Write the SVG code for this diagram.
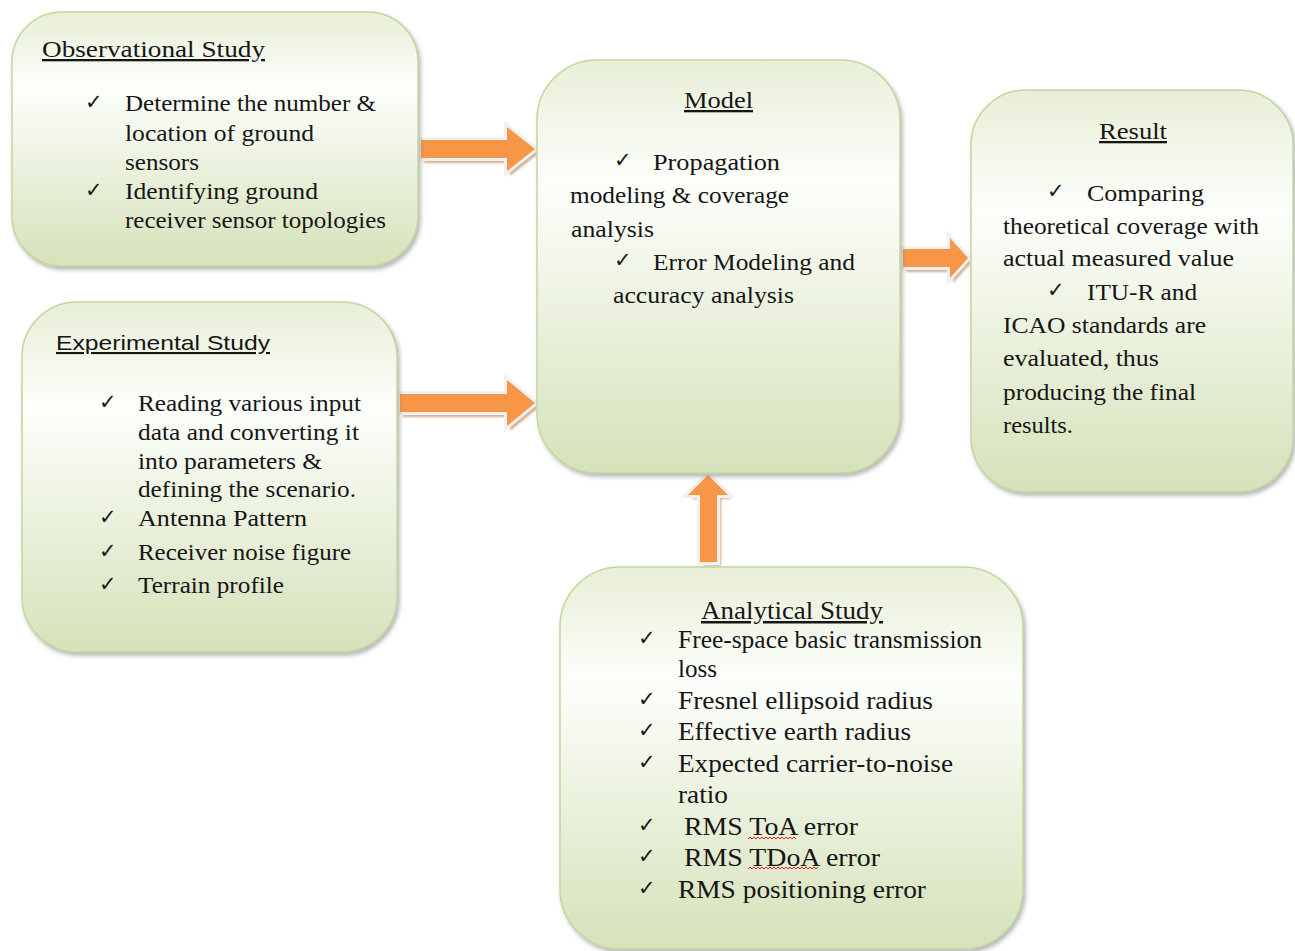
<svg xmlns="http://www.w3.org/2000/svg" width="1295" height="951" viewBox="0 0 1295 951">
<defs>
<linearGradient id="boxg" x1="0" y1="0" x2="0" y2="1">
<stop offset="0" stop-color="#e8efd7"/>
<stop offset="0.3" stop-color="#fdfefb"/>
<stop offset="1" stop-color="#d5e2ba"/>
</linearGradient>
<filter id="sh" x="-10%" y="-10%" width="125%" height="125%">
<feDropShadow dx="2" dy="3" stdDeviation="2" flood-color="#7a7a7a" flood-opacity="0.55"/>
</filter>
<filter id="ash" x="-20%" y="-20%" width="140%" height="140%">
<feGaussianBlur stdDeviation="0.8"/>
</filter>
</defs>
<style>
.box{fill:url(#boxg);stroke:#c4d79f;stroke-width:1.5;filter:url(#sh)}
.t{font-family:"Liberation Serif","Times New Roman",serif;font-size:23px;fill:#161616}
.a{font-size:25px}
.ttl{text-decoration:underline}
.sans{font-family:"Liberation Sans",Arial,sans-serif;font-size:21px}
.ck{font-family:"DejaVu Sans",sans-serif;font-size:21px;fill:#161616;font-weight:bold}
.ar{fill:#f79646;stroke:#f1f1f1;stroke-width:6;stroke-linejoin:miter;paint-order:stroke}
.as{fill:#c79a73;opacity:0.8;filter:url(#ash)}
.sq{fill:none;stroke:#e02020;stroke-width:1}
</style>
<rect width="1295" height="951" fill="#ffffff"/>

<g id="connectors">
<polygon class="as" points="424,145 510,145 510,132 538,154 510,176 510,163 424,163"/>
<polygon class="ar" points="421,140 507,140 507,127 535,149 507,171 507,158 421,158"/>
<polygon class="as" points="403,399 510,399 510,385 538,408 510,431 510,417 403,417"/>
<polygon class="ar" points="400,394 507,394 507,380 535,403 507,426 507,412 400,412"/>
<polygon class="as" points="906,254 953,254 953,243 971,263 953,283 953,272 906,272"/>
<polygon class="ar" points="903,249 950,249 950,238 968,258 950,278 950,267 903,267"/>
<polygon class="as" points="704,566 704,499 692,499 712,479 732,499 721,499 721,566"/>
<polygon class="ar" points="700,562 700,495 688,495 708,475 728,495 717,495 717,562"/>
</g>

<g id="observational">
<rect class="box" x="12" y="12" width="406" height="254" rx="50" ry="50"/>
<text class="t ttl" x="42" y="57" textLength="223" lengthAdjust="spacingAndGlyphs">Observational  Study</text>
<text class="ck" x="85" y="109">✓</text>
<text class="t" x="125" y="111" textLength="251" lengthAdjust="spacingAndGlyphs">Determine the number &amp;</text>
<text class="t" x="125" y="141" textLength="189" lengthAdjust="spacingAndGlyphs">location of ground</text>
<text class="t" x="125" y="170" textLength="74" lengthAdjust="spacingAndGlyphs">sensors</text>
<text class="ck" x="85" y="197">✓</text>
<text class="t" x="125" y="199" textLength="193" lengthAdjust="spacingAndGlyphs">Identifying ground</text>
<text class="t" x="125" y="228" textLength="261" lengthAdjust="spacingAndGlyphs">receiver sensor topologies</text>
</g>

<g id="experimental">
<rect class="box" x="22" y="302" width="375" height="350" rx="55" ry="55"/>
<text class="sans ttl" x="56" y="350" textLength="214" lengthAdjust="spacingAndGlyphs" fill="#161616">Experimental  Study</text>
<text class="ck" x="99" y="409">✓</text>
<text class="t" x="138" y="411" textLength="223" lengthAdjust="spacingAndGlyphs">Reading various input</text>
<text class="t" x="138" y="440" textLength="221" lengthAdjust="spacingAndGlyphs">data and converting it</text>
<text class="t" x="138" y="469" textLength="184" lengthAdjust="spacingAndGlyphs">into parameters &amp;</text>
<text class="t" x="138" y="497" textLength="218" lengthAdjust="spacingAndGlyphs">defining the scenario.</text>
<text class="ck" x="99" y="524">✓</text>
<text class="t" x="138" y="526" textLength="169" lengthAdjust="spacingAndGlyphs">Antenna Pattern</text>
<text class="ck" x="99" y="558">✓</text>
<text class="t" x="138" y="560" textLength="213" lengthAdjust="spacingAndGlyphs">Receiver noise figure</text>
<text class="ck" x="99" y="591">✓</text>
<text class="t" x="138" y="593" textLength="146" lengthAdjust="spacingAndGlyphs">Terrain profile</text>
</g>

<g id="model">
<rect class="box" x="537" y="60" width="363" height="413" rx="60" ry="60"/>
<text class="t ttl" x="684" y="108" textLength="69" lengthAdjust="spacingAndGlyphs">Model</text>
<text class="ck" x="614" y="167">✓</text>
<text class="t" x="653" y="170" textLength="127" lengthAdjust="spacingAndGlyphs">Propagation</text>
<text class="t" x="570" y="203" textLength="219" lengthAdjust="spacingAndGlyphs">modeling &amp; coverage</text>
<text class="t" x="571" y="237" textLength="83" lengthAdjust="spacingAndGlyphs">analysis</text>
<text class="ck" x="614" y="267">✓</text>
<text class="t" x="653" y="270" textLength="202" lengthAdjust="spacingAndGlyphs">Error Modeling and</text>
<text class="t" x="613" y="303" textLength="181" lengthAdjust="spacingAndGlyphs">accuracy analysis</text>
</g>

<g id="result">
<rect class="box" x="971" y="90" width="322" height="402" rx="55" ry="55"/>
<text class="t ttl" x="1099" y="139" textLength="68" lengthAdjust="spacingAndGlyphs">Result</text>
<text class="ck" x="1047" y="198">✓</text>
<text class="t" x="1087" y="201" textLength="117" lengthAdjust="spacingAndGlyphs">Comparing</text>
<text class="t" x="1003" y="234" textLength="256" lengthAdjust="spacingAndGlyphs">theoretical coverage with</text>
<text class="t" x="1003" y="266" textLength="231" lengthAdjust="spacingAndGlyphs">actual measured value</text>
<text class="ck" x="1047" y="297">✓</text>
<text class="t" x="1087" y="300" textLength="110" lengthAdjust="spacingAndGlyphs">ITU-R and</text>
<text class="t" x="1003" y="333" textLength="203" lengthAdjust="spacingAndGlyphs">ICAO standards are</text>
<text class="t" x="1003" y="366" textLength="156" lengthAdjust="spacingAndGlyphs">evaluated, thus</text>
<text class="t" x="1003" y="400" textLength="193" lengthAdjust="spacingAndGlyphs">producing the final</text>
<text class="t" x="1003" y="433" textLength="70" lengthAdjust="spacingAndGlyphs">results.</text>
</g>

<g id="analytical">
<rect class="box" x="560" y="567" width="463" height="382" rx="60" ry="60"/>
<text class="t a ttl" x="701" y="619" textLength="182" lengthAdjust="spacingAndGlyphs">Analytical Study</text>
<text class="ck" x="638" y="645">✓</text>
<text class="t a" x="678" y="648" textLength="304" lengthAdjust="spacingAndGlyphs">Free-space basic transmission</text>
<text class="t a" x="678" y="677" textLength="39" lengthAdjust="spacingAndGlyphs">loss</text>
<text class="ck" x="638" y="706">✓</text>
<text class="t a" x="678" y="709" textLength="255" lengthAdjust="spacingAndGlyphs">Fresnel ellipsoid radius</text>
<text class="ck" x="638" y="737">✓</text>
<text class="t a" x="678" y="740" textLength="233" lengthAdjust="spacingAndGlyphs">Effective earth radius</text>
<text class="ck" x="638" y="769">✓</text>
<text class="t a" x="678" y="772" textLength="275" lengthAdjust="spacingAndGlyphs">Expected carrier-to-noise</text>
<text class="t a" x="678" y="803" textLength="50" lengthAdjust="spacingAndGlyphs">ratio</text>
<text class="ck" x="638" y="832">✓</text>
<text class="t a" x="684" y="835" textLength="174" lengthAdjust="spacingAndGlyphs">RMS ToA  error</text>
<path class="sq" d="M748,839 l2,-2 l2,2 l2,-2 l2,2 l2,-2 l2,2 l2,-2 l2,2 l2,-2 l2,2 l2,-2 l2,2 l2,-2 l2,2 l2,-2 l2,2 l2,-2 l2,2 l2,-2 l2,2 l2,-2 l2,2 l2,-2 l2,2"/>
<text class="ck" x="638" y="863">✓</text>
<text class="t a" x="684" y="866" textLength="196" lengthAdjust="spacingAndGlyphs">RMS TDoA  error</text>
<path class="sq" d="M748,869 l2,-2 l2,2 l2,-2 l2,2 l2,-2 l2,2 l2,-2 l2,2 l2,-2 l2,2 l2,-2 l2,2 l2,-2 l2,2 l2,-2 l2,2 l2,-2 l2,2 l2,-2 l2,2 l2,-2 l2,2 l2,-2 l2,2 l2,-2 l2,2 l2,-2 l2,2 l2,-2 l2,2 l2,-2 l2,2 l2,-2 l2,2 l2,-2"/>
<text class="ck" x="638" y="895">✓</text>
<text class="t a" x="678" y="898" textLength="248" lengthAdjust="spacingAndGlyphs">RMS positioning error</text>
</g>
</svg>
